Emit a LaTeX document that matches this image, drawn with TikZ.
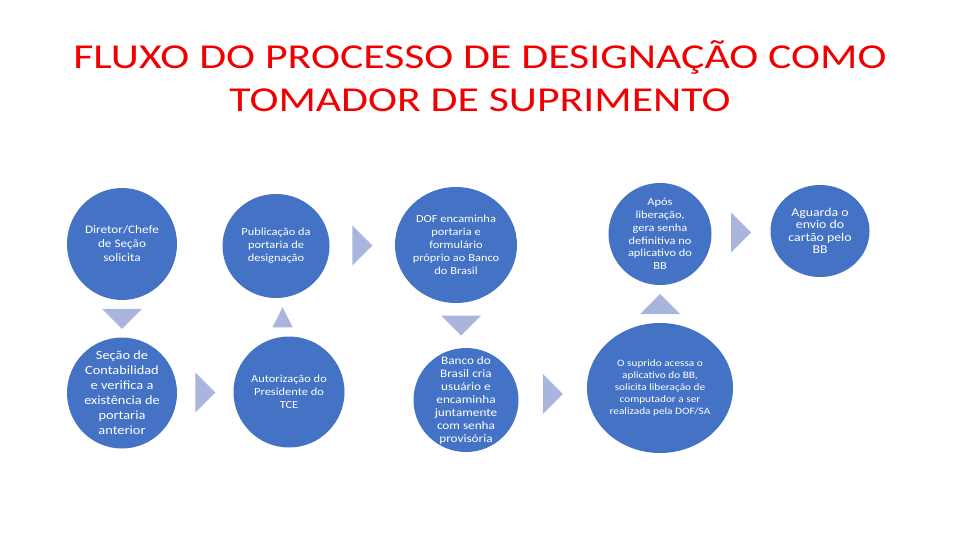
\documentclass[tikz,border=0pt]{standalone}
\usepackage{fontspec}
\setmainfont[FakeStretch=1.15]{Carlito}
\newfontfamily\titlefont[FakeStretch=1.25]{Carlito}
\usetikzlibrary{shapes.geometric, positioning, calc}

\definecolor{stageblue}{HTML}{4472C4}
\definecolor{arrowblue}{HTML}{A9B5DC}
\definecolor{titlered}{HTML}{F00000}

\tikzset{
  stage/.style={ellipse, fill=stageblue, inner sep=0pt},
  stagetext/.style={text=white, align=center, inner sep=0pt},
  arrowtri/.style={fill=arrowblue}
}

\begin{document}
\begin{tikzpicture}[x=1pt, y=-1pt]

\useasboundingbox (0, 0) rectangle (960, 540);

% title
\node [titlered, align=center, font=\titlefont\fontsize{35}{43}\selectfont] (title) at (480, 76)
  {FLUXO DO PROCESSO DE DESIGNAÇÃO COMO\\TOMADOR DE SUPRIMENTO};

% stages
\node [stage, minimum width=110, minimum height=112,
  label={[stagetext, font=\fontsize{11.5}{14}\selectfont]center:{Diretor/Chefe\\de Seção\\solicita}}] (c1) at (122, 244) {};
\node [stage, minimum width=110, minimum height=111,
  label={[stagetext, font=\fontsize{12.5}{15}\selectfont]center:{Seção de\\Contabilidad\\e verifica a\\existência de\\portaria\\anterior}}] (c2) at (122, 393) {};
\node [stage, minimum width=107, minimum height=104,
  label={[stagetext, font=\fontsize{10.8}{13}\selectfont]center:{Publicação da\\portaria de\\designação}}] (c3) at (276, 246) {};
\node [stage, minimum width=111, minimum height=111,
  label={[stagetext, font=\fontsize{10.8}{13}\selectfont]center:{Autorização do\\Presidente do\\TCE}}] (c4) at (289, 392) {};
\node [stage, minimum width=122, minimum height=116,
  label={[stagetext, font=\fontsize{10.8}{13}\selectfont]center:{DOF encaminha\\portaria e\\formulário\\próprio ao Banco\\do Brasil}}] (c5) at (456, 245) {};
\node [stage, minimum width=105, minimum height=104,
  label={[stagetext, font=\fontsize{11.5}{13}\selectfont]center:{Banco do\\Brasil cria\\usuário e\\encaminha\\juntamente\\com senha\\provisória}}] (c6) at (466, 400) {};
\node [stage, minimum width=103, minimum height=102,
  label={[stagetext, font=\fontsize{10.8}{12.7}\selectfont]center:{Após\\liberação,\\gera senha\\definitiva no\\aplicativo do\\BB}}] (c7) at (660, 234) {};
\node [stage, minimum width=99, minimum height=92,
  label={[stagetext, font=\fontsize{12}{12.5}\selectfont]center:{Aguarda o\\envio do\\cartão pelo\\BB}}] (c8) at (820, 231) {};
\node [stage, minimum width=146, minimum height=130,
  label={[stagetext, font=\fontsize{9.8}{12}\selectfont]center:{O suprido acessa o\\aplicativo do BB,\\solicita liberação de\\computador a ser\\realizada pela DOF/SA}}] (c9) at (660, 388) {};

% arrows between stages
\coordinate (m1) at ($(c1.south)!0.5!(c2.north)$);
\coordinate (m2) at ($(c2.east)!0.5!(c4.west)$);
\coordinate (m3) at ($(c4.north)!0.5!(c3.south)$);
\coordinate (m4) at ($(c3.east)!0.5!(c5.west)$);
\coordinate (m5) at ($(c5.south)!0.5!(c6.north)$);
\coordinate (m6) at ($(c6.east)!0.5!(c9.west)$);
\coordinate (m7) at ($(c9.north)!0.5!(c7.south)$);
\coordinate (m8) at ($(c7.east)!0.5!(c8.west)$);

\fill [arrowtri, shift={(m1)}] (-20, -10) -- (20, -10) -- (0, 10) -- cycle;
\fill [arrowtri, shift={(m2)}] (-10, -20) -- (-10, 20) -- (10, 0) -- cycle;
\fill [arrowtri, shift={(m3)}] (-10, 10) -- (10, 10) -- (0, -10) -- cycle;
\fill [arrowtri, shift={(m4)}] (-10, -20) -- (-10, 20) -- (10, 0) -- cycle;
\fill [arrowtri, shift={(m5)}] (-20, -10) -- (20, -10) -- (0, 10) -- cycle;
\fill [arrowtri, shift={(m6)}] (-10, -20) -- (-10, 20) -- (10, 0) -- cycle;
\fill [arrowtri, shift={(m7)}] (-20, 10) -- (20, 10) -- (0, -10) -- cycle;
\fill [arrowtri, shift={(m8)}] (-10, -20) -- (-10, 20) -- (10, 0) -- cycle;

\end{tikzpicture}
\end{document}
